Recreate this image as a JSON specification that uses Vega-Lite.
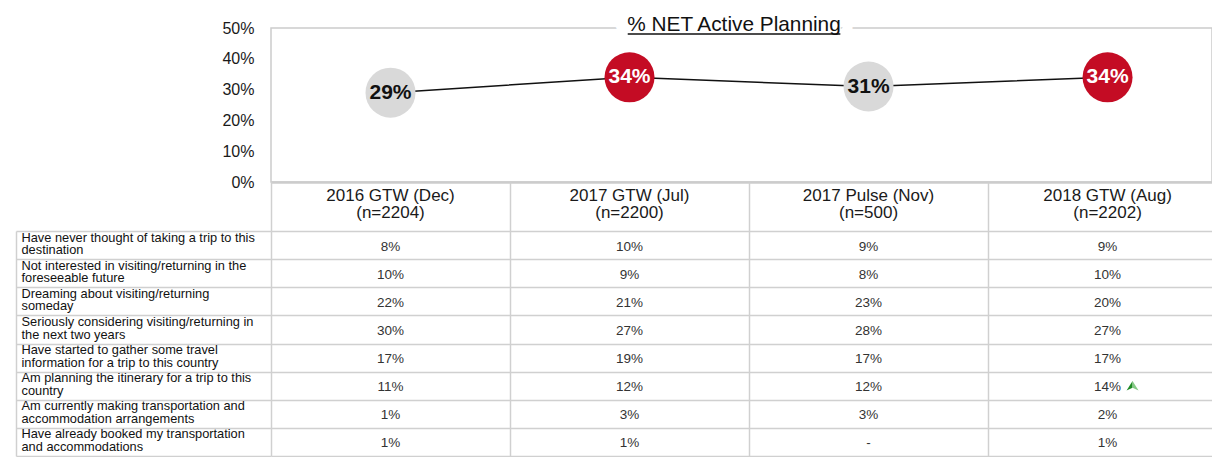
{
  "$schema": "https://vega.github.io/schema/vega-lite/v6.json",
  "background": "white",
  "padding": {"left": 15, "top": 13, "right": 0, "bottom": 0},
  "bounds": "flush",
  "spacing": 0,
  "config": {"font": "Liberation Sans", "view": {"stroke": null}},
  "datasets": {
    "periods": [
      {"order": 1, "period": "2016 GTW (Dec)", "sample": "(n=2204)", "net": 0.29, "highlight": "no"},
      {"order": 2, "period": "2017 GTW (Jul)", "sample": "(n=2200)", "net": 0.34, "highlight": "yes"},
      {"order": 3, "period": "2017 Pulse (Nov)", "sample": "(n=500)", "net": 0.31, "highlight": "no"},
      {"order": 4, "period": "2018 GTW (Aug)", "sample": "(n=2202)", "net": 0.34, "highlight": "yes"}
    ],
    "cells": [
      {"response": "Have never thought of taking a trip to this\ndestination", "order": 1, "share": 0.08},
      {"response": "Have never thought of taking a trip to this\ndestination", "order": 2, "share": 0.10},
      {"response": "Have never thought of taking a trip to this\ndestination", "order": 3, "share": 0.09},
      {"response": "Have never thought of taking a trip to this\ndestination", "order": 4, "share": 0.09},
      {"response": "Not interested in visiting/returning in the\nforeseeable future", "order": 1, "share": 0.10},
      {"response": "Not interested in visiting/returning in the\nforeseeable future", "order": 2, "share": 0.09},
      {"response": "Not interested in visiting/returning in the\nforeseeable future", "order": 3, "share": 0.08},
      {"response": "Not interested in visiting/returning in the\nforeseeable future", "order": 4, "share": 0.10},
      {"response": "Dreaming about visiting/returning\nsomeday", "order": 1, "share": 0.22},
      {"response": "Dreaming about visiting/returning\nsomeday", "order": 2, "share": 0.21},
      {"response": "Dreaming about visiting/returning\nsomeday", "order": 3, "share": 0.23},
      {"response": "Dreaming about visiting/returning\nsomeday", "order": 4, "share": 0.20},
      {"response": "Seriously considering visiting/returning in\nthe next two years", "order": 1, "share": 0.30},
      {"response": "Seriously considering visiting/returning in\nthe next two years", "order": 2, "share": 0.27},
      {"response": "Seriously considering visiting/returning in\nthe next two years", "order": 3, "share": 0.28},
      {"response": "Seriously considering visiting/returning in\nthe next two years", "order": 4, "share": 0.27},
      {"response": "Have started to gather some travel\ninformation for a trip to this country", "order": 1, "share": 0.17},
      {"response": "Have started to gather some travel\ninformation for a trip to this country", "order": 2, "share": 0.19},
      {"response": "Have started to gather some travel\ninformation for a trip to this country", "order": 3, "share": 0.17},
      {"response": "Have started to gather some travel\ninformation for a trip to this country", "order": 4, "share": 0.17},
      {"response": "Am planning the itinerary for a trip to this\ncountry", "order": 1, "share": 0.11},
      {"response": "Am planning the itinerary for a trip to this\ncountry", "order": 2, "share": 0.12},
      {"response": "Am planning the itinerary for a trip to this\ncountry", "order": 3, "share": 0.12},
      {"response": "Am planning the itinerary for a trip to this\ncountry", "order": 4, "share": 0.14, "trend": "up"},
      {"response": "Am currently making transportation and\naccommodation arrangements", "order": 1, "share": 0.01},
      {"response": "Am currently making transportation and\naccommodation arrangements", "order": 2, "share": 0.03},
      {"response": "Am currently making transportation and\naccommodation arrangements", "order": 3, "share": 0.03},
      {"response": "Am currently making transportation and\naccommodation arrangements", "order": 4, "share": 0.02},
      {"response": "Have already booked my transportation\nand accommodations", "order": 1, "share": 0.01},
      {"response": "Have already booked my transportation\nand accommodations", "order": 2, "share": 0.01},
      {"response": "Have already booked my transportation\nand accommodations", "order": 3, "share": null},
      {"response": "Have already booked my transportation\nand accommodations", "order": 4, "share": 0.01}
    ]
  },
  "vconcat": [
    {
      "width": 941,
      "height": 154,
      "view": {"stroke": "#cccccc", "strokeWidth": 1.5},
      "resolve": {"axis": {"x": "independent", "y": "independent"}},
      "layer": [
        {
          "data": {"name": "periods"},
          "encoding": {
            "x": {"field": "order", "type": "quantitative", "scale": {"domain": [0.5, 4.437], "nice": false, "zero": false},
              "axis": {"domain": true, "domainColor": "#cccccc", "domainWidth": 2.5, "labels": false, "ticks": false, "grid": false, "title": null}},
            "y": {"field": "net", "type": "quantitative", "scale": {"domain": [0, 0.5], "nice": false},
              "axis": {"values": [0, 0.1, 0.2, 0.3, 0.4, 0.5], "format": ".0%", "title": null, "grid": false, "ticks": false, "domain": false, "labelFontSize": 16, "labelColor": "#1a1a1a", "labelPadding": 17}}
          },
          "layer": [
            {"mark": {"type": "line", "color": "#111111", "strokeWidth": 1.5}},
            {"mark": {"type": "point", "shape": "circle", "filled": true, "size": 2500, "opacity": 1},
              "encoding": {"color": {"field": "highlight", "type": "nominal", "scale": {"domain": ["no", "yes"], "range": ["#d9d9d9", "#c40c24"]}, "legend": null}}},
            {"mark": {"type": "text", "fontSize": 21, "fontWeight": "bold"},
              "encoding": {"text": {"field": "net", "type": "quantitative", "format": ".0%"},
                "color": {"condition": {"test": "datum.highlight === 'yes'", "value": "#ffffff"}, "value": "#111111"}}}
          ]
        },
        {
          "data": {"values": [{"heading": "% NET Active Planning"}]},
          "layer": [
            {"mark": {"type": "text", "fontSize": 20.8, "dy": 3, "baseline": "alphabetic", "fill": "white", "stroke": "white", "strokeWidth": 26, "strokeJoin": "round"},
              "encoding": {"x": {"datum": 2.437, "type": "quantitative", "axis": null}, "y": {"datum": 0.5, "type": "quantitative", "axis": null}, "text": {"field": "heading"}}},
            {"mark": {"type": "text", "fontSize": 20.8, "dy": 3, "baseline": "alphabetic", "color": "#111111"},
              "encoding": {"x": {"datum": 2.437, "type": "quantitative", "axis": null}, "y": {"datum": 0.5, "type": "quantitative", "axis": null}, "text": {"field": "heading"}}},
            {"mark": {"type": "rule", "color": "#111111", "strokeWidth": 1.5, "yOffset": 6},
              "encoding": {"x": {"datum": 1.9925, "type": "quantitative", "axis": null}, "x2": {"datum": 2.882}, "y": {"datum": 0.5, "type": "quantitative", "axis": null}}}
          ]
        }
      ]
    },
    {
      "width": 941,
      "height": 49,
      "data": {"name": "periods"},
      "encoding": {
        "x": {"field": "order", "type": "quantitative", "scale": {"domain": [0.5, 4.437], "nice": false, "zero": false},
          "axis": {"values": [0.5, 1.5, 2.5, 3.5], "grid": true, "gridColor": "#d0d0d0", "gridWidth": 1.5, "labels": false, "ticks": false, "domain": false, "title": null}}
      },
      "layer": [
        {"mark": {"type": "text", "fontSize": 17, "lineHeight": 16.6, "baseline": "alphabetic", "dy": -5.3, "color": "#1a1a1a",
          "text": {"expr": "[datum.period, datum.sample]"}}}
      ]
    },
    {
      "width": 941,
      "height": 225,
      "data": {"name": "cells"},
      "encoding": {
        "x": {"field": "order", "type": "quantitative", "scale": {"domain": [0.5, 4.437], "nice": false, "zero": false},
          "axis": {"values": [0.5, 1.5, 2.5, 3.5], "grid": true, "gridColor": "#d0d0d0", "gridWidth": 1.5, "labels": false, "ticks": false, "domain": false, "title": null}},
        "y": {"field": "response", "type": "nominal", "sort": null, "scale": {"type": "band", "paddingInner": 0, "paddingOuter": 0},
          "axis": {"title": null, "offset": 255, "domain": true, "domainColor": "#d0d0d0", "domainWidth": 1.5,
            "ticks": true, "tickBand": "extent", "tickSize": -255, "tickColor": "#d0d0d0", "tickWidth": 1.5,
            "grid": true, "gridColor": "#d0d0d0", "gridWidth": 1.5,
            "labelAlign": "left", "labelPadding": 250, "labelBaseline": "alphabetic", "labelOffset": -4,
            "labelExpr": "split(datum.label, '\\n')", "labelFontSize": 12.8, "labelLineHeight": 12.6, "labelColor": "#111111", "labelLimit": 0}}
      },
      "layer": [
        {"mark": {"type": "text", "fontSize": 13.5, "color": "#333333", "dy": 1.5},
          "encoding": {"text": {"condition": {"test": "datum.share === null", "value": "-"}, "field": "share", "type": "quantitative", "format": ".0%"}}},
        {"transform": [{"filter": "datum.trend === 'up'"}],
          "mark": {"type": "point", "shape": "M0,-0.8L0,0.35L-1,0.8Z", "filled": true, "size": 144, "color": "#1f8b24", "opacity": 1, "xOffset": 25}},
        {"transform": [{"filter": "datum.trend === 'up'"}],
          "mark": {"type": "point", "shape": "M0,-0.8L1,0.8L0,0.35Z", "filled": true, "size": 144, "color": "#86c986", "opacity": 1, "xOffset": 25}}
      ]
    }
  ]
}
